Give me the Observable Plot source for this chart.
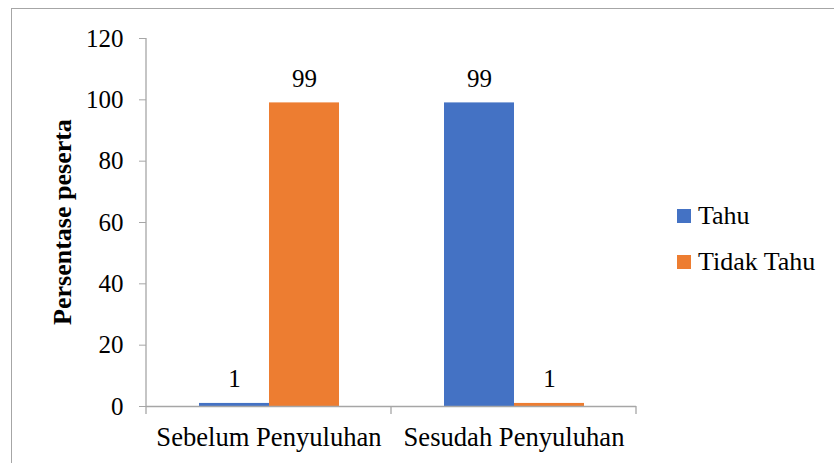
<!DOCTYPE html>
<html><head><meta charset="utf-8">
<script src="https://cdn.jsdelivr.net/npm/d3@7"></script>
<script src="https://cdn.jsdelivr.net/npm/@observablehq/plot@0.6"></script>
<style>
body{margin:0;background:#fff;}
#wrap{position:relative;width:834px;height:463px;overflow:hidden;font-family:"Liberation Serif","Times New Roman",serif;color:#000;background:#fff;}
#border{position:absolute;left:11px;top:8px;width:900px;height:600px;border:1px solid #a6a6a6;box-sizing:border-box;}
#chart{position:absolute;left:0;top:0;}
#chart svg, #chart svg text, #chart svg g{font-family:"Liberation Serif","Times New Roman",serif !important;}
#ytitle{position:absolute;left:63px;top:222px;transform:translate(-50%,-50%) rotate(-90deg);font-weight:bold;font-size:26px;white-space:nowrap;}
.leg{position:absolute;left:677px;font-size:26px;white-space:nowrap;line-height:1;}
.leg span.sw{position:absolute;left:0;width:14px;height:14px;}
.leg span.lab{position:absolute;left:21px;}
</style>
</head><body>
<div id="wrap">
  <div id="border"></div>
  <div id="chart"></div>
  <div id="ytitle">Persentase peserta</div>
  <div id="legend"></div>
</div>
<script>
const categories = ["Sebelum Penyuluhan", "Sesudah Penyuluhan"];
const series = ["Tahu", "Tidak Tahu"];
const tahu = [1, 99];
const tidakTahu = [99, 1];
const colors = ["#4472C4", "#ED7D31"];
const yTicks = [0, 20, 40, 60, 80, 100, 120];

const data = [];
categories.forEach((c, i) => {
  data.push({category: c, series: series[0], value: tahu[i]});
  data.push({category: c, series: series[1], value: tidakTahu[i]});
});

const axisGray = "#a6a6a6";
const serif = "Liberation Serif, Times New Roman, serif";

const chart = Plot.plot({
  width: 834,
  height: 463,
  marginLeft: 146,
  marginRight: 198,
  marginTop: 38,
  marginBottom: 57,
  style: {fontFamily: serif, fontSize: "25px", color: "#000", background: "transparent", overflow: "visible"},
  fx: {domain: categories, padding: 0, label: null},
  x: {domain: series, paddingInner: 0, paddingOuter: 0.75, axis: null},
  y: {domain: [0, 120], label: null, axis: null},
  color: {domain: series, range: colors},
  marks: [
    Plot.axisY({ticks: yTicks, tickSize: 7, tickPadding: 16, stroke: axisGray, fill: "#000", label: null, fontSize: 25, fontFamily: serif}),
    Plot.axisFx({anchor: "bottom", tickSize: 0, tickPadding: 21, label: null, fontSize: 26.6, fill: "#000", fontFamily: serif}),
    Plot.barY(data, {fx: "category", x: "series", y: "value", fill: "series"}),
    Plot.ruleY([0], {stroke: axisGray, strokeWidth: 1.3}),
    Plot.text(data, {fx: "category", x: "series", y: "value", text: d => String(d.value), dy: -24, fill: "#000", fontSize: 25, fontFamily: serif})
  ]
});

// axis line and category boundary ticks derived from the scales
const ys = chart.scale("y");
const fxs = chart.scale("fx");
const svg = d3.select(chart);
const x0 = fxs.range[0], x1 = fxs.range[1];
const yBase = ys.apply(0), yTop = ys.apply(120);
svg.append("line").attr("x1", x0).attr("x2", x0).attr("y1", yTop).attr("y2", yBase)
  .attr("stroke", axisGray).attr("stroke-width", 1.3);
const edges = categories.map(c => fxs.apply(c)).concat([x1]);
edges.forEach(ex => {
  svg.append("line").attr("x1", ex).attr("x2", ex).attr("y1", yBase).attr("y2", yBase + 8)
    .attr("stroke", axisGray).attr("stroke-width", 1.3);
});

document.getElementById("chart").appendChild(chart);

// legend
const legend = document.getElementById("legend");
const legTops = [209, 255];
series.forEach((s, i) => {
  const row = document.createElement("div");
  row.className = "leg";
  row.style.top = legTops[i] + "px";
  row.innerHTML = `<span class="sw" style="background:${colors[i]}"></span><span class="lab" style="top:-6px">${s}</span>`;
  legend.appendChild(row);
});
</script>
</body></html>
